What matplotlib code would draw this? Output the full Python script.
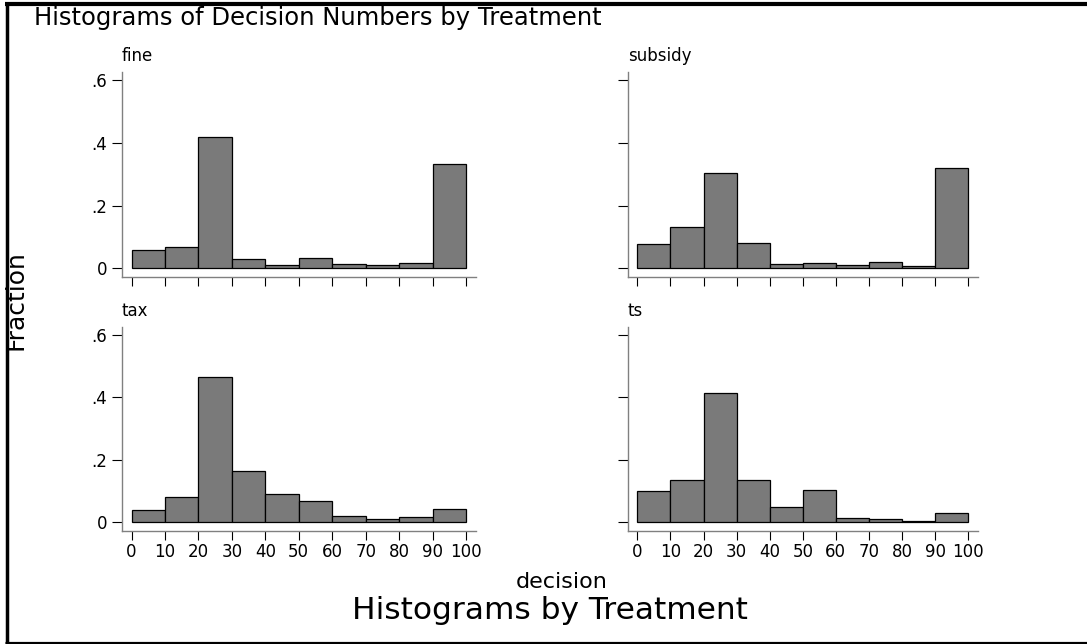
import matplotlib
matplotlib.use("Agg")
import matplotlib.pyplot as plt
from matplotlib.lines import Line2D
import numpy as np

# Histogram bin edges (decision numbers) and fraction in each bin per treatment
bin_edges = [0, 10, 20, 30, 40, 50, 60, 70, 80, 90, 100]
treatments = ["fine", "subsidy", "tax", "ts"]
frac_fine = [0.058, 0.067, 0.418, 0.028, 0.010, 0.034, 0.013, 0.010, 0.016, 0.332]
frac_subsidy = [0.077, 0.130, 0.305, 0.080, 0.013, 0.017, 0.010, 0.019, 0.006, 0.321]
frac_tax = [0.040, 0.081, 0.467, 0.164, 0.090, 0.069, 0.020, 0.012, 0.017, 0.043]
frac_ts = [0.101, 0.135, 0.414, 0.135, 0.049, 0.104, 0.014, 0.012, 0.005, 0.031]
y_ticks = [0, 0.2, 0.4, 0.6]
y_tick_labels = ["0", ".2", ".4", ".6"]
x_ticks = [0, 10, 20, 30, 40, 50, 60, 70, 80, 90, 100]

series = {"fine": frac_fine, "subsidy": frac_subsidy, "tax": frac_tax, "ts": frac_ts}

W, H = 1087, 644
fig = plt.figure(figsize=(W / 100, H / 100), dpi=100)
fig.patch.set_facecolor("white")
plt.rcParams["font.family"] = ["DejaVu Sans"]


def px_rect(left, top, right, bottom):
    return [left / W, 1 - bottom / H, (right - left) / W, (bottom - top) / H]


panel_boxes = {
    "fine": px_rect(122, 72, 476, 277),
    "subsidy": px_rect(628, 72, 978, 277),
    "tax": px_rect(122, 327, 476, 531),
    "ts": px_rect(628, 327, 978, 531),
}

lefts = bin_edges[:-1]
for i, name in enumerate(treatments):
    ax = fig.add_axes(panel_boxes[name])
    ax.bar(lefts, series[name], width=10, align="edge",
           color="#7a7a7a", edgecolor="black", linewidth=0.9)
    ax.set_xlim(-2.85, 103.0)
    ax.set_ylim(-0.028, 0.626)
    for side in ("top", "right"):
        ax.spines[side].set_visible(False)
    for side in ("left", "bottom"):
        ax.spines[side].set_color("#808080")
        ax.spines[side].set_linewidth(1.0)
    ax.set_xticks(x_ticks)
    ax.set_yticks(y_ticks)
    ax.tick_params(axis="y", length=7, width=0.8, color="black", pad=3.5,
                   labelsize=12)
    ax.tick_params(axis="x", length=6.5, width=0.8, color="black", pad=2,
                   labelsize=12)
    if i % 2 == 0:
        ax.set_yticklabels(y_tick_labels)
    else:
        ax.set_yticklabels([])
    if i >= 2:
        ax.set_xticklabels([str(v) for v in x_ticks])
    else:
        ax.set_xticklabels([])
    ax.text(0, 1.055, name, transform=ax.transAxes, ha="left",
            va="baseline", fontsize=12)

# Figure-level labels
fig.text(34 / W, 1 - 25 / H, "Histograms of Decision Numbers by Treatment",
         ha="left", va="baseline", fontsize=17.5)
fig.text(16 / W, 1 - 300 / H, "Fraction", rotation=90, ha="center",
         va="center", fontsize=18)
fig.text(562 / W, 1 - 588 / H, "decision", ha="center", va="baseline",
         fontsize=16)
fig.text(550 / W, 1 - 619 / H, "Histograms by Treatment", ha="center",
         va="baseline", fontsize=22.5)

# Frame around the graph
frame_top = Line2D([5 / W, 1.0], [1 - 4 / H, 1 - 4 / H], transform=fig.transFigure,
                   color="black", linewidth=3.0, solid_capstyle="butt")
frame_left = Line2D([6.6 / W, 6.6 / W], [0, 1 - 2 / H], transform=fig.transFigure,
                    color="black", linewidth=2.5, solid_capstyle="butt")
frame_bottom = Line2D([5 / W, 1.0], [1 - 642.5 / H, 1 - 642.5 / H],
                      transform=fig.transFigure, color="black", linewidth=2.3,
                      solid_capstyle="butt")
for ln in (frame_top, frame_left, frame_bottom):
    fig.add_artist(ln)

fig.savefig("out.png", dpi=100, facecolor="white")
